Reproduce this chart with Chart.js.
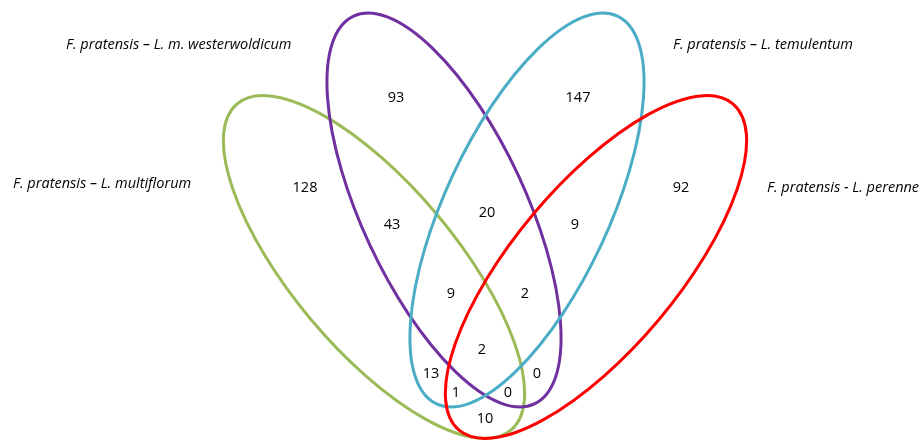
<!DOCTYPE html>
<html>
<head>
<meta charset="utf-8">
<script src="https://cdn.jsdelivr.net/npm/chart.js@4"></script>
<style>
html,body{margin:0;padding:0;background:#fff;}
#wrap{width:920px;height:440px;position:relative;}
</style>
</head>
<body>
<div id="wrap"><canvas id="c" width="920" height="440"></canvas></div>
<script>
// Sets (ellipses)
const setNames = [
  "F. pratensis \u2013 L. multiflorum",
  "F. pratensis \u2013 L. m. westerwoldicum",
  "F. pratensis \u2013 L. temulentum",
  "F. pratensis - L. perenne"
];
const setColors = ["#9BBB59", "#7030A0", "#4BACC6", "#FF0000"];
// ellipse geometry in plot units: centre x, centre y, semi-major, semi-minor, rotation (deg)
const ellipseCX = [374, 444, 527, 596];
const ellipseCY = [267, 210, 210, 267];
const ellipseA  = [213, 214, 214, 213];
const ellipseB  = [82, 82, 82, 82];
const ellipseRot = [50, 65, -65, -50];
// set-name label anchors
const nameX = [13, 66, 673, 767];
const nameY = [184, 45, 45, 188];

// Region counts
const regionCounts = [93, 147, 128, 92, 43, 20, 9, 9, 2, 2, 13, 0, 1, 0, 10];
const regionX = [396, 578, 305, 681, 392, 487, 575, 451, 525, 482, 431, 537, 456, 508, 485];
const regionY = [98, 98, 188, 188, 225, 213, 225, 294, 294, 350, 374, 374, 393, 393, 419];

const vennPlugin = {
  id: 'venn',
  afterDatasetsDraw(chart) {
    const ctx = chart.ctx;
    const xs = chart.scales.x, ys = chart.scales.y;
    ctx.save();
    for (let i = 0; i < ellipseCX.length; i++) {
      const px = xs.getPixelForValue(ellipseCX[i]);
      const py = ys.getPixelForValue(ellipseCY[i]);
      const ra = Math.abs(xs.getPixelForValue(ellipseCX[i] + ellipseA[i]) - px);
      const rb = Math.abs(xs.getPixelForValue(ellipseCX[i] + ellipseB[i]) - px);
      ctx.beginPath();
      ctx.ellipse(px, py, ra, rb, ellipseRot[i] * Math.PI / 180, 0, Math.PI * 2);
      ctx.strokeStyle = setColors[i];
      ctx.lineWidth = 3;
      ctx.stroke();
    }
    ctx.fillStyle = '#000';
    ctx.textBaseline = 'middle';
    ctx.textAlign = 'center';
    ctx.font = '14.5px "Open Sans", "Noto Sans", sans-serif';
    for (let i = 0; i < regionCounts.length; i++) {
      ctx.fillText(String(regionCounts[i]), xs.getPixelForValue(regionX[i]), ys.getPixelForValue(regionY[i]));
    }
    ctx.textAlign = 'left';
    ctx.font = 'italic 14.5px "Open Sans", "Noto Sans", sans-serif';
    for (let i = 0; i < setNames.length; i++) {
      ctx.fillText(setNames[i], xs.getPixelForValue(nameX[i]), ys.getPixelForValue(nameY[i]));
    }
    ctx.restore();
  }
};

new Chart(document.getElementById('c'), {
  type: 'scatter',
  data: {
    datasets: [{
      data: regionCounts.map((v, i) => ({x: regionX[i], y: regionY[i]})),
      pointRadius: 0,
      showLine: false
    }]
  },
  options: {
    responsive: false,
    animation: false,
    layout: {padding: 0},
    plugins: {legend: {display: false}, tooltip: {enabled: false}},
    scales: {
      x: {type: 'linear', min: 0, max: 920, display: false},
      y: {type: 'linear', min: 0, max: 440, reverse: true, display: false}
    }
  },
  plugins: [vennPlugin]
});
</script>
</body>
</html>
